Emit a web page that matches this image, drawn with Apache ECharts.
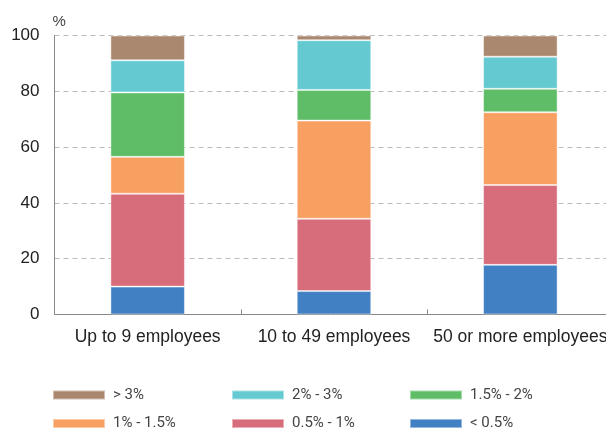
<!DOCTYPE html>
<html>
<head>
<meta charset="utf-8">
<script src="https://cdn.jsdelivr.net/npm/echarts@6/dist/echarts.min.js"></script>
<style>html,body{margin:0;padding:0;background:#fff}#c{width:606px;height:430px}</style>
</head>
<body>
<div id="c"></div>
<script>
var categories = ['Up to 9 employees', '10 to 49 employees', '50 or more employees'];
var seriesNames = ['< 0.5%', '0.5% - 1%', '1% - 1.5%', '1.5% - 2%', '2% - 3%', '> 3%'];
var lt05 = [10.0, 8.4, 17.8];
var s05to1 = [33.3, 25.9, 28.6];
var s1to15 = [13.2, 35.2, 26.1];
var s15to2 = [23.1, 11.0, 8.4];
var s2to3 = [11.5, 17.8, 11.5];
var gt3 = [8.9, 1.7, 7.6];
var yTicks = [0, 20, 40, 60, 80, 100];

var values = [lt05, s05to1, s1to15, s15to2, s2to3, gt3];
var colors = ['#4180c3', '#d76c7b', '#f89f62', '#5fbd68', '#64c9d0', '#aa8870'];

var series = seriesNames.map(function (n, i) {
  return {
    name: n, type: 'bar', stack: 'all', data: values[i], barWidth: '40%',
    itemStyle: { color: colors[i], borderColor: 'rgba(255,255,255,0.45)', borderWidth: 1 },
    emphasis: { disabled: true }
  };
});

function leg(left, top, name) {
  return {
    orient: 'horizontal', left: left, top: top, itemWidth: 52, itemHeight: 9,
    icon: 'rect', data: [name], selectedMode: false, padding: 0,
    textStyle: { fontFamily: 'Roboto', fontSize: 15, color: '#444', lineHeight: 16, padding: [0, 0, 0, 3] }
  };
}

var chart = echarts.init(document.getElementById('c'), null, { renderer: 'canvas' });
chart.setOption({
  animation: false,
  color: colors,
  grid: { left: 54.5, width: 559, top: 35.5, bottom: 115.5, containLabel: false, outerBoundsMode: 'none' },
  legend: [
    leg(52, 387, '> 3%'),
    leg(52, 415.5, '1% - 1.5%'),
    leg(231, 387, '2% - 3%'),
    leg(231, 415.5, '0.5% - 1%'),
    leg(409, 387, '1.5% - 2%'),
    leg(409, 415.5, '< 0.5%')
  ],
  xAxis: {
    type: 'category', data: categories,
    axisLine: { lineStyle: { color: '#888', width: 1 } },
    axisTick: { show: true, inside: true, length: 5, lineStyle: { color: '#888' } },
    axisLabel: { fontFamily: 'Liberation Sans', fontSize: 17.5, color: '#222', margin: 14, interval: 0 }
  },
  yAxis: {
    type: 'value', min: yTicks[0], max: yTicks[yTicks.length - 1], interval: 20,
    name: '%', nameLocation: 'end', nameGap: 6,
    nameTextStyle: { fontFamily: 'Liberation Sans', fontSize: 15, color: '#444', align: 'left', padding: [0, 0, 0, -2] },
    axisLine: { show: true, lineStyle: { color: '#888', width: 1 } },
    axisTick: { show: false },
    axisLabel: { fontFamily: 'Liberation Sans', fontSize: 17, color: '#222', margin: 15 },
    splitLine: { lineStyle: { color: '#bbb', type: [5, 4], width: 1 } }
  },
  series: series
});
</script>
</body>
</html>
